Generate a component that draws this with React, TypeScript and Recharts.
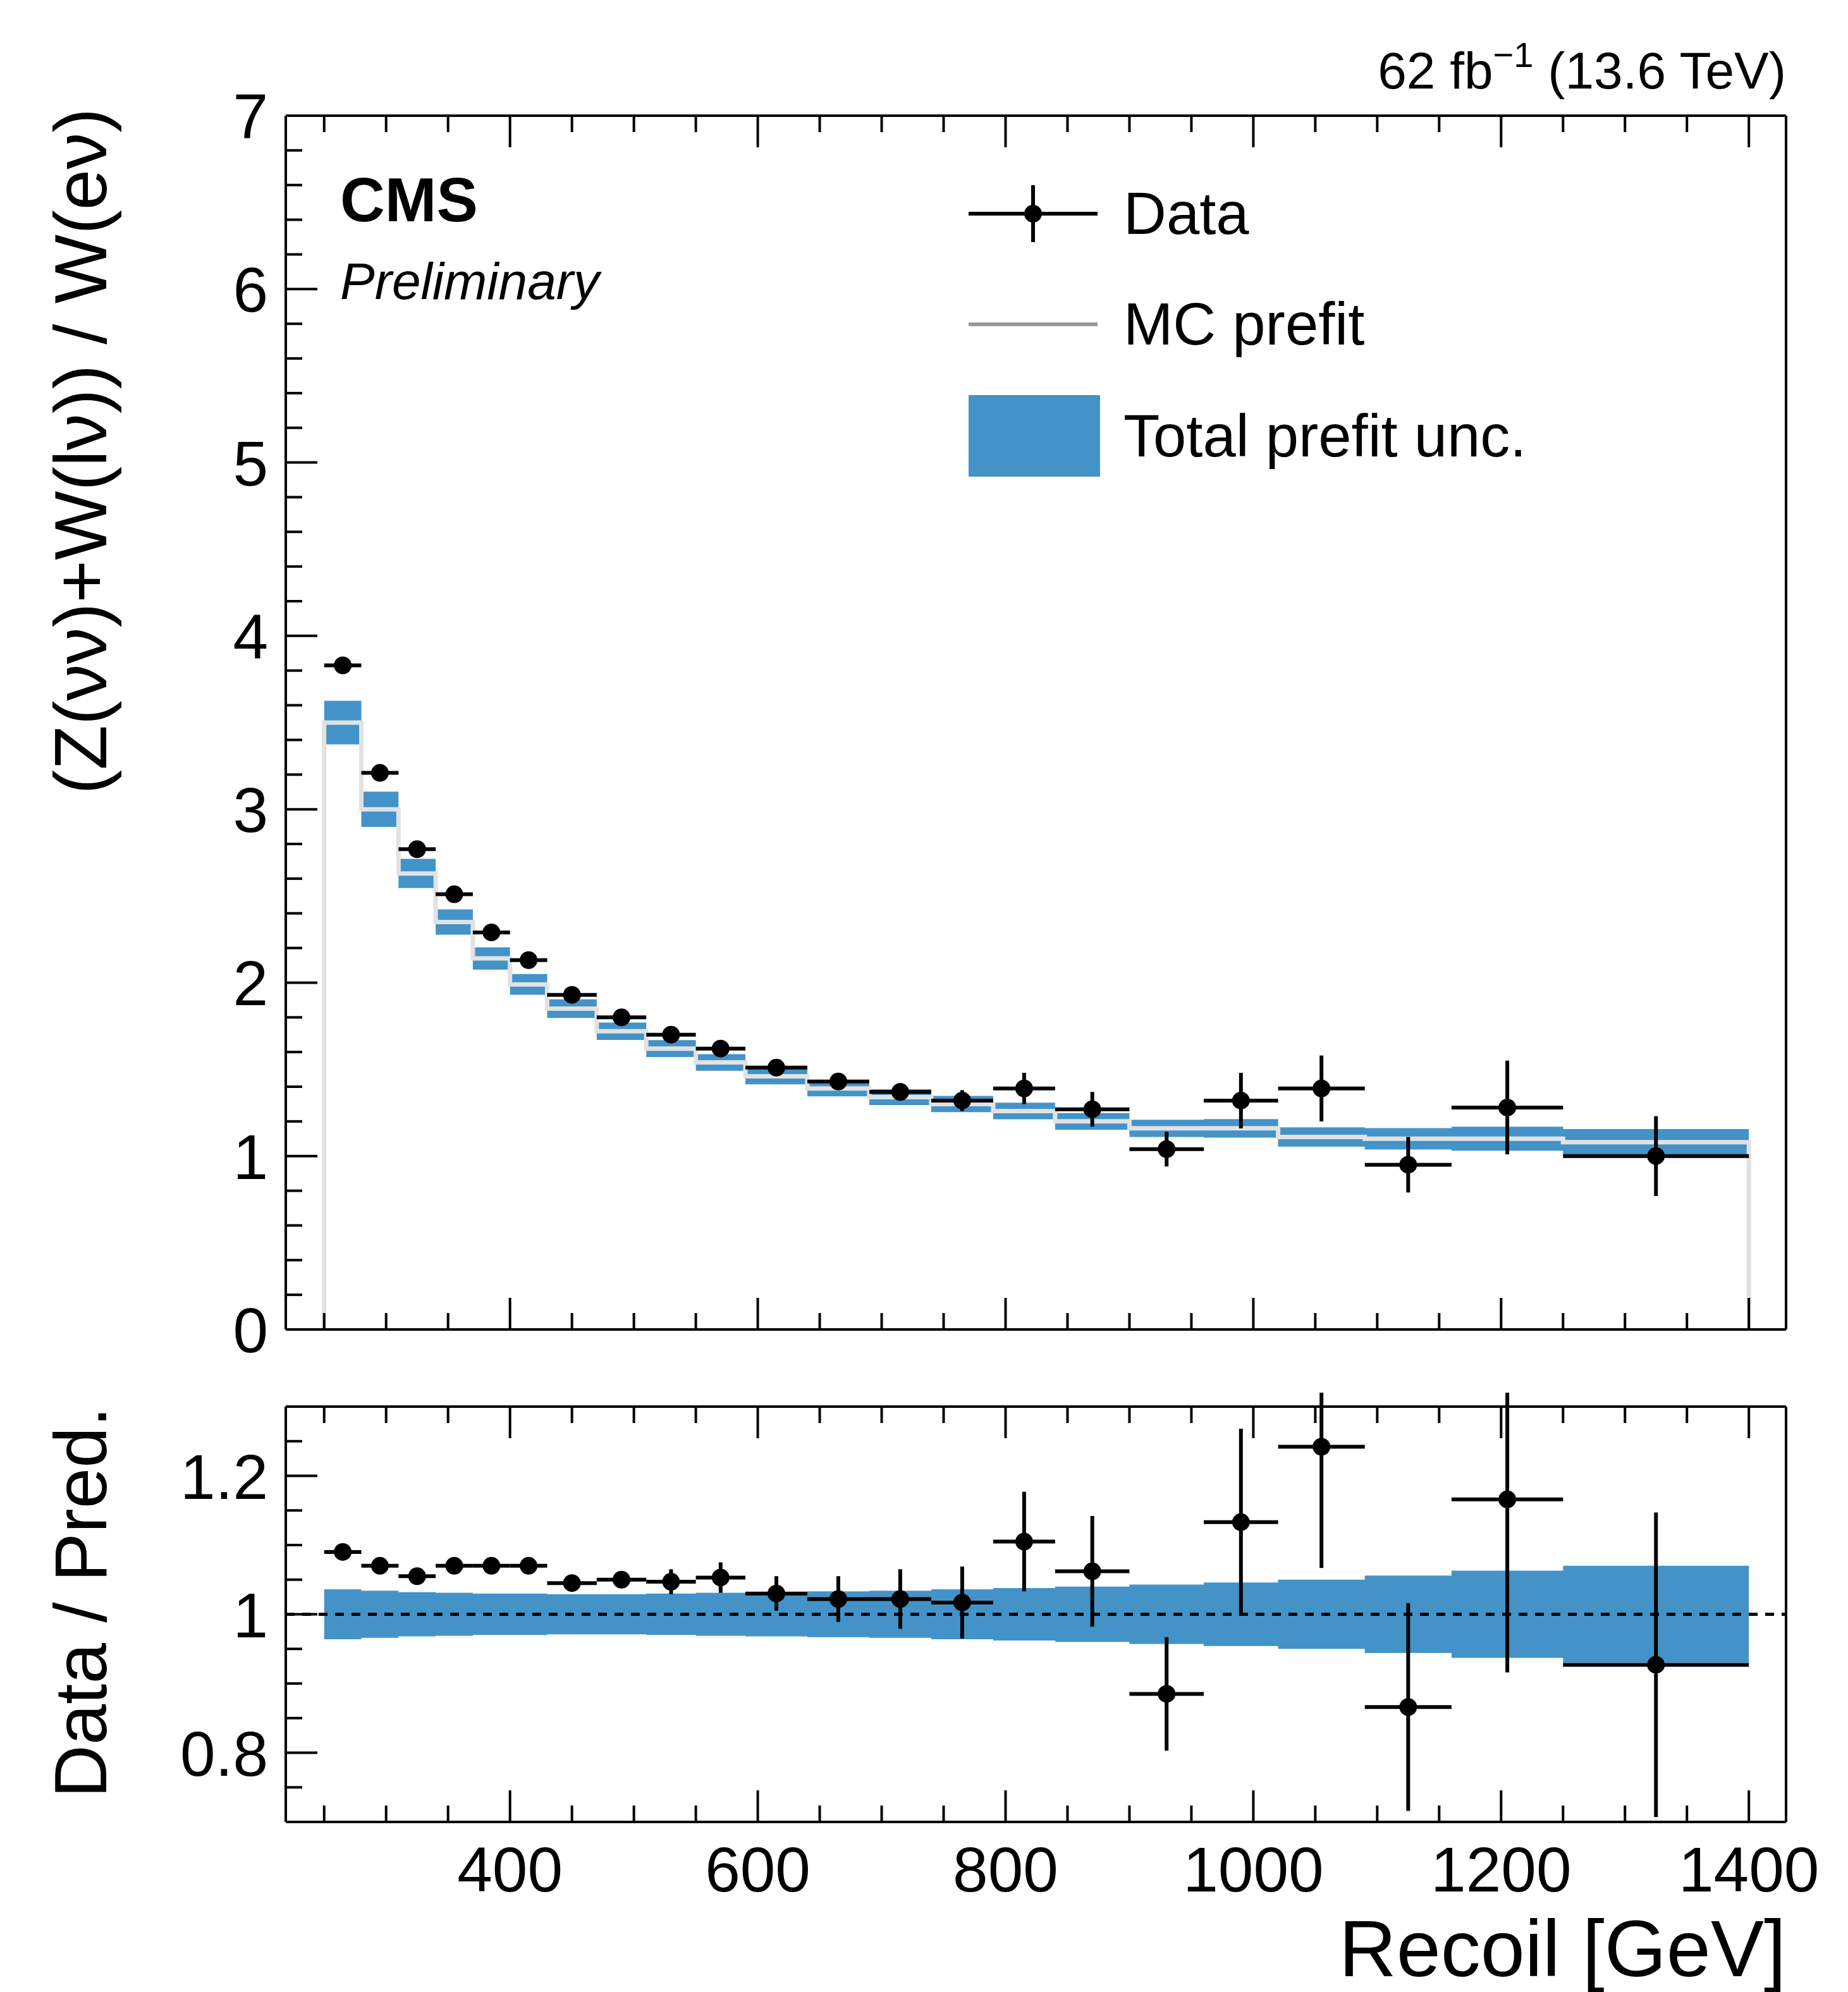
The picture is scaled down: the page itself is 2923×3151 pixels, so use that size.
import { Area, ComposedChart, ErrorBar, Line, ReferenceLine, Scatter, XAxis, YAxis } from "recharts";

const edges = [250, 280, 310, 340, 370, 400, 430, 470, 510, 550, 590, 640, 690, 740, 790, 840, 900, 960, 1020, 1090, 1160, 1250, 1400];
const dataVals = [3.83, 3.21, 2.77, 2.51, 2.29, 2.13, 1.93, 1.8, 1.7, 1.62, 1.51, 1.43, 1.37, 1.32, 1.39, 1.27, 1.04, 1.32, 1.39, 0.95, 1.28, 1.0];
const dataErr = [0.02, 0.02, 0.02, 0.02, 0.02, 0.02, 0.02, 0.02, 0.03, 0.03, 0.03, 0.04, 0.05, 0.06, 0.09, 0.1, 0.1, 0.16, 0.19, 0.16, 0.27, 0.23];
const mcVals = [3.5, 3.0, 2.63, 2.35, 2.14, 1.99, 1.85, 1.72, 1.62, 1.54, 1.46, 1.39, 1.34, 1.3, 1.26, 1.2, 1.16, 1.16, 1.11, 1.1, 1.1, 1.08];
const bandRel = [0.036, 0.034, 0.032, 0.031, 0.03, 0.03, 0.029, 0.029, 0.03, 0.031, 0.032, 0.033, 0.034, 0.036, 0.038, 0.04, 0.043, 0.046, 0.05, 0.056, 0.063, 0.07];
const ratioVals = [1.09, 1.07, 1.055, 1.07, 1.07, 1.07, 1.045, 1.05, 1.047, 1.053, 1.03, 1.022, 1.022, 1.017, 1.105, 1.062, 0.885, 1.133, 1.242, 0.866, 1.166, 0.927];
const ratioErr = [0.008, 0.008, 0.008, 0.008, 0.009, 0.01, 0.01, 0.012, 0.018, 0.022, 0.025, 0.033, 0.043, 0.052, 0.072, 0.08, 0.082, 0.135, 0.175, 0.15, 0.25, 0.22];

const xTicks = [250, 300, 350, 400, 450, 500, 550, 600, 650, 700, 750, 800, 850, 900, 950, 1000, 1050, 1100, 1150, 1200, 1250, 1300, 1350, 1400];
const xMajor = [400, 600, 800, 1000, 1200, 1400];
const yTopTicks = Array.from({ length: 36 }, (_, i) => +(i * 0.2).toFixed(1));
const yTopMajor = [0, 1, 2, 3, 4, 5, 6, 7];
const yBotTicks = [0.7, 0.75, 0.8, 0.85, 0.9, 0.95, 1, 1.05, 1.1, 1.15, 1.2, 1.25, 1.3];
const yBotMajor = [0.8, 1, 1.2];

const BLUE = "#4393c9";
const FONT = "'Liberation Sans', Arial, sans-serif";
const W = 2923;

const topData: any[] = [{ x: 250, mc: 0, band: null }];
edges.forEach((e, i) => {
  const k = Math.min(i, mcVals.length - 1);
  const m = mcVals[k];
  const r = bandRel[k];
  topData.push({ x: e, mc: m, band: [m * (1 - r), m * (1 + r)] });
});
topData.push({ x: 1400, mc: 0, band: null });

const botData = edges.map((e, i) => {
  const r = bandRel[Math.min(i, bandRel.length - 1)];
  return { x: e, band: [1 - r, 1 + r] };
});

const centers = edges.slice(0, -1).map((e, i) => (e + edges[i + 1]) / 2);
const halfW = edges.slice(0, -1).map((e, i) => (edges[i + 1] - e) / 2);
const topPts = centers.map((c, i) => ({ x: c, y: dataVals[i], xerr: halfW[i], yerr: dataErr[i] }));
const botPts = centers.map((c, i) => ({ x: c, y: ratioVals[i], xerr: halfW[i], yerr: ratioErr[i] }));

function makeTick(side: "left" | "right" | "top" | "bottom", majors: number[], labels: boolean) {
  return (p: any) => {
    const v = p.payload.value;
    const major = majors.some((m) => Math.abs(m - v) < 1e-6);
    const len = major ? 50 : 26;
    const { x, y } = p;
    if (side === "left")
      return (
        <g>
          <line x1={x} x2={x + len} y1={y} y2={y} stroke="#000" strokeWidth={4} />
          {labels && major && (
            <text x={x - 28} y={y} dy="0.36em" textAnchor="end" fontSize={100} fontFamily={FONT} fill="#000">
              {String(v)}
            </text>
          )}
        </g>
      );
    if (side === "right") return <line x1={x} x2={x - len} y1={y} y2={y} stroke="#000" strokeWidth={4} />;
    if (side === "top") return <line x1={x} x2={x} y1={y} y2={y + len} stroke="#000" strokeWidth={4} />;
    return (
      <g>
        <line x1={x} x2={x} y1={y} y2={y - len} stroke="#000" strokeWidth={4} />
        {labels && major && (
          <text x={x} y={y + 110} textAnchor="middle" fontSize={100} fontFamily={FONT} fill="#000">
            {String(v)}
          </text>
        )}
      </g>
    );
  };
}

const dot = (p: any) => <circle cx={p.cx} cy={p.cy} r={14} fill="#000" />;

function Axes({ yTicks, yMajor, yDomain, bottomH, topH, xLabels }: any) {
  return [
    <XAxis key="xb" dataKey="x" type="number" domain={[219, 1430]} ticks={xTicks} interval={0} allowDataOverflow
      axisLine={{ stroke: "#000", strokeWidth: 4 }} tickLine={false} tickSize={0} tickMargin={0}
      tick={makeTick("bottom", xMajor, xLabels)} height={bottomH} />,
    <XAxis key="xt" xAxisId="top" orientation="top" dataKey="x" type="number" domain={[219, 1430]} ticks={xTicks} interval={0}
      axisLine={{ stroke: "#000", strokeWidth: 4 }} tickLine={false} tickSize={0} tickMargin={0}
      tick={makeTick("top", xMajor, false)} height={topH} />,
    <YAxis key="yl" type="number" domain={yDomain} ticks={yTicks} interval={0} allowDataOverflow
      axisLine={{ stroke: "#000", strokeWidth: 4 }} tickLine={false} tickSize={0} tickMargin={0}
      tick={makeTick("left", yMajor, true)} width={444} />,
    <YAxis key="yr" yAxisId="r" orientation="right" type="number" domain={yDomain} ticks={yTicks} interval={0}
      axisLine={{ stroke: "#000", strokeWidth: 4 }} tickLine={false} tickSize={0} tickMargin={0}
      tick={makeTick("right", yMajor, false)} width={106} />,
  ];
}

export default function App() {
  return (
    <div style={{ position: "relative", width: W, height: 3151, background: "#fff", fontFamily: FONT }}>
      <div style={{ position: "absolute", left: 0, top: 0 }}>
        <ComposedChart width={W} height={2195} data={topData} margin={{ top: 0, right: 0, bottom: 0, left: 0 }}>
          {Axes({ yTicks: yTopTicks, yMajor: yTopMajor, yDomain: [0, 7], bottomH: 100, topH: 175, xLabels: false })}
          <Area dataKey="band" type="stepAfter" fill={BLUE} fillOpacity={1} stroke="none" isAnimationActive={false} />
          <Line dataKey="mc" type="stepAfter" stroke="#e2e2e2" strokeWidth={7} dot={false} isAnimationActive={false} />
          <Scatter data={topPts} dataKey="y" shape={dot} isAnimationActive={false}>
            <ErrorBar dataKey="xerr" direction="x" width={0} stroke="#000" strokeWidth={6} />
            <ErrorBar dataKey="yerr" direction="y" width={0} stroke="#000" strokeWidth={6} />
          </Scatter>
        </ComposedChart>
      </div>
      <div style={{ position: "absolute", left: 0, top: 2195 }}>
        <ComposedChart width={W} height={956} data={botData} margin={{ top: 0, right: 0, bottom: 0, left: 0 }}>
          {Axes({ yTicks: yBotTicks, yMajor: yBotMajor, yDomain: [0.7, 1.3], bottomH: 277, topH: 22, xLabels: true })}
          <Area dataKey="band" type="stepAfter" fill={BLUE} fillOpacity={1} stroke="none" isAnimationActive={false} />
          <ReferenceLine y={1} stroke="#000" strokeWidth={5} strokeDasharray="14 12" />
          <Scatter data={botPts} dataKey="y" shape={dot} isAnimationActive={false}>
            <ErrorBar dataKey="xerr" direction="x" width={0} stroke="#000" strokeWidth={6} />
            <ErrorBar dataKey="yerr" direction="y" width={0} stroke="#000" strokeWidth={6} />
          </Scatter>
        </ComposedChart>
      </div>
      <svg width={W} height={3151} style={{ position: "absolute", left: 0, top: 0, pointerEvents: "none" }} fontFamily={FONT}>
        <text x={2817} y={132} textAnchor="end" fontSize={82}>
          62 fb<tspan dy={-34} fontSize={56}>−1</tspan><tspan dy={34}> (13.6 TeV)</tspan>
        </text>
        <text x={530} y={342} fontSize={98} fontWeight="bold">CMS</text>
        <text x={530} y={465} fontSize={82} fontStyle="italic">Preliminary</text>
        <line x1={1524} x2={1728} y1={330} y2={330} stroke="#000" strokeWidth={6} />
        <line x1={1626} x2={1626} y1={285} y2={375} stroke="#000" strokeWidth={6} />
        <circle cx={1626} cy={330} r={14} fill="#000" />
        <text x={1769} y={362} fontSize={94}>Data</text>
        <line x1={1524} x2={1728} y1={505} y2={505} stroke="#999" strokeWidth={6} />
        <text x={1769} y={537} fontSize={94}>MC prefit</text>
        <rect x={1524} y={617} width={208} height={129} fill={BLUE} />
        <text x={1769} y={714} fontSize={94}>Total prefit unc.</text>
        <text transform="translate(160,163) rotate(-90)" textAnchor="end" fontSize={116}>
          (Z(νν)+W(lν)) / W(eν)
        </text>
        <text transform="translate(160,2217) rotate(-90)" textAnchor="end" fontSize={116}>
          Data / Pred.
        </text>
        <text x={2817} y={3118} textAnchor="end" fontSize={126}>Recoil [GeV]</text>
      </svg>
    </div>
  );
}
